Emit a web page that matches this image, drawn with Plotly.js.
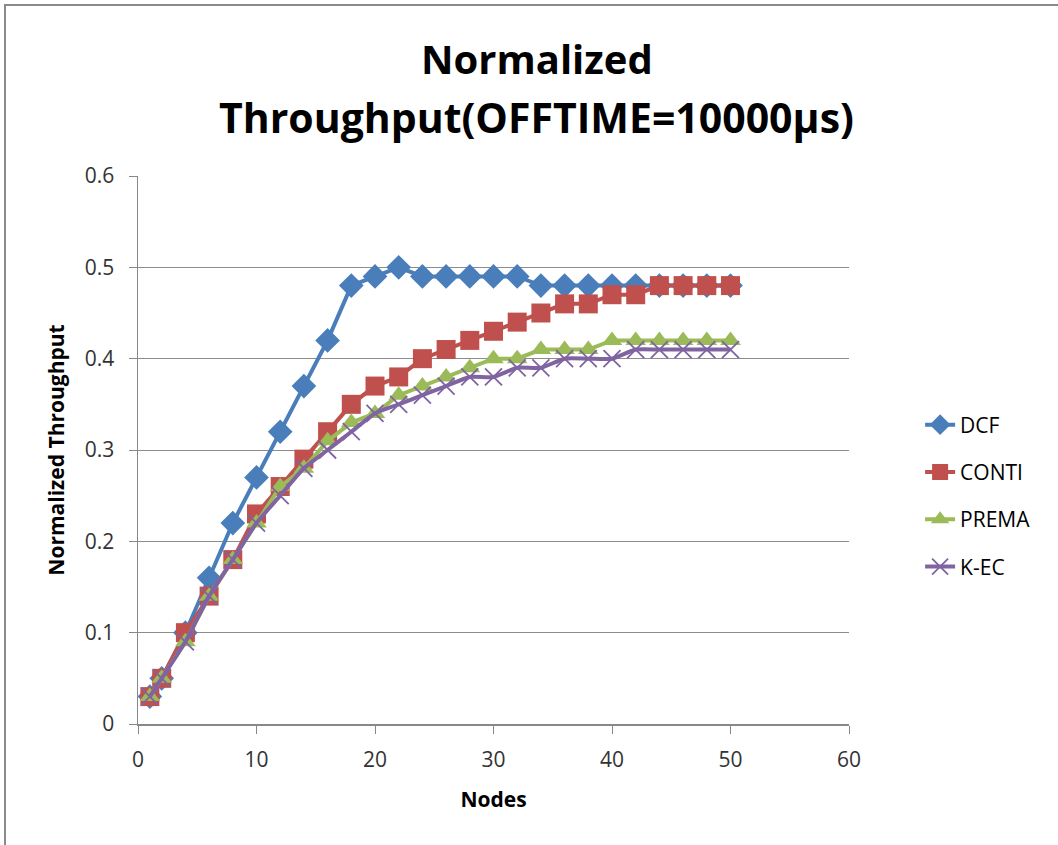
<!DOCTYPE html>
<html><head><meta charset="utf-8">
<script src="https://cdn.plot.ly/plotly-3.0.1.min.js"></script>
<style>
html,body{margin:0;padding:0;background:#fff;}
#frame{position:absolute;left:4px;top:4px;width:1060px;height:850px;border-top:2px solid #8a8a8a;border-left:2px solid #8a8a8a;}
#chart{position:absolute;left:0;top:0;width:1058px;height:845px;}
</style></head>
<body>
<div id="frame"></div>
<div id="chart"></div>
<script>
const nodes = [1,2,4,6,8,10,12,14,16,18,20,22,24,26,28,30,32,34,36,38,40,42,44,46,48,50];
const dcf   = [0.03,0.05,0.10,0.16,0.22,0.27,0.32,0.37,0.42,0.48,0.49,0.50,0.49,0.49,0.49,0.49,0.49,0.48,0.48,0.48,0.48,0.48,0.48,0.48,0.48,0.48];
const conti = [0.03,0.05,0.10,0.14,0.18,0.23,0.26,0.29,0.32,0.35,0.37,0.38,0.40,0.41,0.42,0.43,0.44,0.45,0.46,0.46,0.47,0.47,0.48,0.48,0.48,0.48];
const prema = [0.03,0.05,0.09,0.14,0.18,0.22,0.26,0.28,0.31,0.33,0.34,0.36,0.37,0.38,0.39,0.40,0.40,0.41,0.41,0.41,0.42,0.42,0.42,0.42,0.42,0.42];
const kec   = [0.03,0.05,0.09,0.14,0.18,0.22,0.25,0.28,0.30,0.32,0.34,0.35,0.36,0.37,0.38,0.38,0.39,0.39,0.40,0.40,0.40,0.41,0.41,0.41,0.41,0.41];
const seriesNames = ['DCF','CONTI','PREMA','K-EC'];
const titleLines = ['Normalized','Throughput(OFFTIME=10000µs)'];
const colors = ['#4A7EBB','#C0504D','#9BBB59','#8064A2'];

const FONT = 'Open Sans, Liberation Sans, sans-serif';
const traces = [
  {x:nodes,y:dcf,name:seriesNames[0],legendgroup:'a',mode:'lines+markers',line:{color:colors[0],width:4},marker:{symbol:'diamond',size:19,color:colors[0]}},
  {x:nodes,y:conti,name:seriesNames[1],legendgroup:'b',mode:'lines+markers',line:{color:colors[1],width:4},marker:{symbol:'square',size:19,color:colors[1]}},
  {x:nodes,y:prema,name:seriesNames[2],legendgroup:'c',mode:'lines+markers',line:{color:colors[2],width:4},marker:{symbol:'triangle-up',size:18,color:colors[2]}},
  {x:nodes,y:kec,name:seriesNames[3],legendgroup:'d',mode:'lines+markers',line:{color:colors[3],width:4,shape:'spline',smoothing:0.6},marker:{symbol:'x-thin',size:17,color:colors[3],line:{color:colors[3],width:1.8}}}
];
const layout = {
  width:1058,height:845,
  margin:{l:138,r:209,t:176,b:121},
  paper_bgcolor:'rgba(0,0,0,0)',plot_bgcolor:'#fff',
  font:{family:FONT,color:'#000'},
  annotations:[
    {text:'<b>'+titleLines[0]+'</b>',xref:'paper',yref:'paper',x:0.561,y:1.2153,xanchor:'center',yanchor:'middle',showarrow:false,font:{size:40,family:FONT,color:'#000'}},
    {text:'<b>'+titleLines[1]+'</b>',xref:'paper',yref:'paper',x:0.561,y:1.1077,xanchor:'center',yanchor:'middle',showarrow:false,font:{size:41,family:FONT,color:'#000'}}
  ],
  xaxis:{range:[0,60],dtick:10,tick0:0,showgrid:false,zeroline:false,showline:true,linecolor:'#888',linewidth:1.5,
         ticks:'outside',ticklen:8,tickcolor:'#888',tickfont:{size:21,color:'#333'},ticklabelstandoff:8,
         title:{text:'<b>Nodes</b>',font:{size:21,color:'#000'},standoff:20}},
  yaxis:{range:[0,0.6],dtick:0.1,tick0:0,showgrid:true,gridcolor:'#8c8c8c',gridwidth:1,zeroline:false,showline:true,linecolor:'#888',linewidth:1.5,
         ticks:'outside',ticklen:8,tickcolor:'#888',tickfont:{size:21,color:'#333'},ticklabelstandoff:10,
         title:{text:'<b>Normalized Throughput</b>',font:{size:21,color:'#000'},standoff:14}},
  showlegend:true,
  legend:{x:1.10,xanchor:'left',y:0.583,yanchor:'top',font:{size:21,color:'#000'},tracegroupgap:17,bgcolor:'rgba(0,0,0,0)'},
  hovermode:false
};
Plotly.newPlot('chart',traces,layout,{displayModeBar:false,staticPlot:true});
</script>
</body></html>
